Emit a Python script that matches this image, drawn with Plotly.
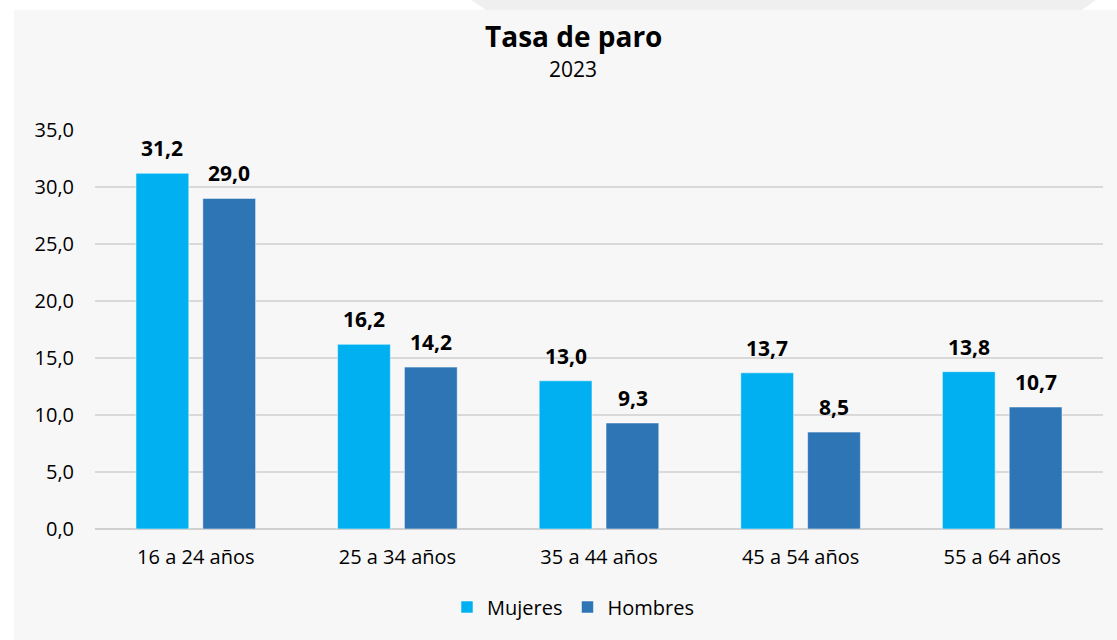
import plotly.graph_objects as go

# datos
grupos = ['16 a 24 años', '25 a 34 años', '35 a 44 años', '45 a 54 años', '55 a 64 años']
mujeres = [31.2, 16.2, 13.0, 13.7, 13.8]
hombres = [29.0, 14.2, 9.3, 8.5, 10.7]
titulo = 'Tasa de paro'
subtitulo = '2023'

W, H = 1117, 640
FONT = 'Open Sans'

# plot area in pixels (used to place the background panel)
L, R, T, B = 95, 14, 130, 111
pw, ph = W - L - R, H - T - B


def px_x(x):
    return (x - L) / pw


def px_y(y):
    return (H - B - y) / ph


fig = go.Figure()
fig.add_trace(go.Bar(
    x=grupos, y=mujeres, name='Mujeres',
    marker=dict(color='#00b0f0', line=dict(color='rgba(255,255,255,0.5)', width=1)),
))
fig.add_trace(go.Bar(
    x=grupos, y=hombres, name='Hombres',
    marker=dict(color='#2e75b6', line=dict(color='rgba(255,255,255,0.5)', width=1)),
))

# value labels above each bar
labels = []
for serie, shift in ((mujeres, -33.5), (hombres, 33.5)):
    for g, v in zip(grupos, serie):
        labels.append(dict(
            x=g, y=v, xref='x', yref='y', text=f'<b>{v:.1f}</b>'.replace('.', ','),
            showarrow=False, xshift=shift, yshift=25, yanchor='middle',
            font=dict(size=21, color='black'),
        ))

fig.update_layout(
    width=W, height=H,
    margin=dict(l=L, r=R, t=T, b=B),
    paper_bgcolor='white',
    plot_bgcolor='rgba(0,0,0,0)',
    separators=',.',
    barmode='group',
    bargap=0.337,
    bargroupgap=0.21,
    font=dict(family=FONT, size=20, color='black'),
    showlegend=True,
    legend=dict(orientation='h', xref='container', yref='container',
                x=573 / W, xanchor='center', y=1 - 607 / H, yanchor='middle',
                font=dict(size=20), bgcolor='rgba(0,0,0,0)'),
    xaxis=dict(showgrid=False, showline=False, ticks='', ticklabelstandoff=14,
               tickfont=dict(size=20)),
    yaxis=dict(range=[0, 35], dtick=5, tickformat='.1f', showgrid=True,
               gridcolor='#d9d9d9', gridwidth=2, zeroline=True, zerolinecolor='#d0d0d0',
               zerolinewidth=2, ticks='', ticklabelstandoff=20, tickfont=dict(size=20)),
    shapes=[
        # gray panel behind the chart
        dict(type='rect', xref='paper', yref='paper', layer='below',
             x0=px_x(14), x1=px_x(W), y0=px_y(H), y1=px_y(10),
             fillcolor='#f7f7f7', line=dict(width=0)),
        # trapezoid tab at the top
        dict(type='path', xref='paper', yref='paper', layer='below',
             path=f'M {px_x(471)} {px_y(0)} L {px_x(1096)} {px_y(0)} '
                  f'L {px_x(1082)} {px_y(10)} L {px_x(486)} {px_y(10)} Z',
             fillcolor='#efefef', line=dict(width=0)),
    ],
    annotations=[
        dict(text=f'<b>{titulo}</b>', xref='paper', yref='paper', x=px_x(573), y=px_y(36),
             showarrow=False, xanchor='center', yanchor='middle', font=dict(size=28)),
        dict(text=subtitulo, xref='paper', yref='paper', x=px_x(573), y=px_y(69),
             showarrow=False, xanchor='center', yanchor='middle', font=dict(size=21)),
    ] + labels,
)

fig.write_html('out.html', config={'displayModeBar': False},
               post_script="document.body.style.margin='0';")
